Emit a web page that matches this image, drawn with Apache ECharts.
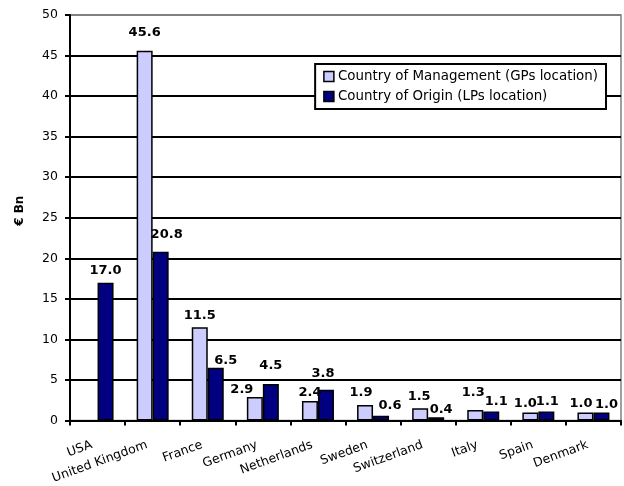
<!DOCTYPE html>
<html>
<head>
<meta charset="utf-8">
<script src="https://cdn.jsdelivr.net/npm/echarts@6/dist/echarts.min.js"></script>
<style>
html,body{margin:0;padding:0;background:#fff;}
#chart{width:624px;height:486px;}
</style>
</head>
<body>
<div id="chart"></div>
<script>
const categories = ['USA', 'United Kingdom', 'France', 'Germany', 'Netherlands', 'Sweden', 'Switzerland', 'Italy', 'Spain', 'Denmark'];
const management = [null, 45.6, 11.5, 2.9, 2.4, 1.9, 1.5, 1.3, 1.0, 1.0];
const origin = [17.0, 20.8, 6.5, 4.5, 3.8, 0.6, 0.4, 1.1, 1.1, 1.0];
const seriesNames = ['Country of Management (GPs location)', 'Country of Origin (LPs location)'];
const yTicks = { min: 0, max: 50, interval: 5 };

// Value-label placement: [horizontal shift, gap above the bar] in px,
// spreading neighbouring labels so they do not collide.
const managementLabelNudge = [null, [0, 14], [0, 8], [-13, 3], [0, 4], [-4, 8], [-1, 8], [-2, 13], [-5, 5], [-4.5, 5]];
const originLabelNudge = [[0, 8], [6, 13], [10, 3], [0, 14], [-3, 12], [9, 6], [5, 4], [5, 6], [1, 6], [5, 4]];

const FONT = 'DejaVu Sans, Verdana, sans-serif';
const BASE_GAP = 3.5;
const chart = echarts.init(document.getElementById('chart'));

const labelStyle = {
  show: true,
  position: 'top',
  distance: 1,
  fontFamily: FONT,
  fontWeight: 'bold',
  fontSize: 13,
  color: '#000',
  formatter: p => (p.value == null ? '' : Number(p.value).toFixed(1))
};

function withLabels(values, nudges) {
  return values.map((v, i) => {
    const n = nudges[i];
    if (v == null || !n) return { value: v };
    return { value: v, label: { offset: [n[0], -(n[1] - BASE_GAP)] } };
  });
}

// Gridlines are black; the top one coincides with the grey plot border.
const tickCount = (yTicks.max - yTicks.min) / yTicks.interval + 1;
const gridColors = Array.from({ length: tickCount }, (_, i) => (i === tickCount - 1 ? '#808080' : '#000'));

chart.setOption({
  animation: false,
  backgroundColor: '#fff',
  grid: { left: 70, right: 3, top: 15, bottom: 65, show: true, borderColor: '#808080', borderWidth: 1.5 },
  legend: {
    right: 18, top: 64,
    orient: 'vertical',
    backgroundColor: '#fff',
    borderColor: '#000',
    borderWidth: 2,
    borderRadius: 0,
    padding: [6, 8, 6, 8],
    itemGap: 7,
    itemWidth: 10,
    itemHeight: 10,
    icon: 'rect',
    textStyle: { fontFamily: FONT, fontSize: 13.4, color: '#000', padding: [0, 0, 0, -1] },
    itemStyle: { borderColor: '#000', borderWidth: 1.5 },
    data: seriesNames
  },
  xAxis: {
    type: 'category',
    data: categories,
    axisLine: { lineStyle: { color: '#000', width: 2 } },
    axisTick: { show: true, length: 5, lineStyle: { color: '#000', width: 2 } },
    axisLabel: { rotate: 20, margin: 22, padding: [0, 6, 0, 0], fontFamily: FONT, fontSize: 12.5, color: '#000', interval: 0 }
  },
  yAxis: {
    type: 'value',
    min: yTicks.min, max: yTicks.max, interval: yTicks.interval,
    name: '€ Bn',
    nameLocation: 'middle',
    nameGap: 44,
    nameTextStyle: { fontFamily: FONT, fontWeight: 'bold', fontSize: 12, color: '#000', padding: [0, 0, 0, 14] },
    axisLine: { show: true, lineStyle: { color: '#000', width: 2 } },
    axisTick: { show: true, length: 5, lineStyle: { color: '#000', width: 2 } },
    axisLabel: { fontFamily: FONT, fontSize: 12.5, color: '#000', margin: 12 },
    splitLine: { lineStyle: { color: gridColors, width: 2 } }
  },
  series: [
    {
      name: seriesNames[0], type: 'bar', data: withLabels(management, managementLabelNudge),
      barWidth: 16, barGap: '0%',
      itemStyle: { color: '#CCCCFF', borderColor: '#000', borderWidth: 1.5 },
      label: labelStyle
    },
    {
      name: seriesNames[1], type: 'bar', data: withLabels(origin, originLabelNudge),
      barWidth: 16, barGap: '0%',
      itemStyle: { color: '#000080', borderColor: '#000', borderWidth: 1.5 },
      label: labelStyle
    }
  ]
});
</script>
</body>
</html>
